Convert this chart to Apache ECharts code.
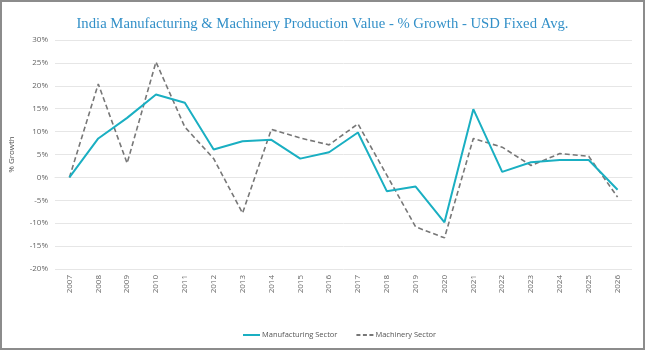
<!DOCTYPE html>
<html>
<head>
<meta charset="utf-8">
<script src="https://cdn.jsdelivr.net/npm/echarts@6/dist/echarts.min.js"></script>
<style>
    html, body { margin: 0; padding: 0; background: #fff; }
    #wrap { position: relative; width: 645px; height: 350px; }
    #chart { width: 645px; height: 350px; }
    #frame { position: absolute; left: 0; top: 0; width: 645px; height: 350px; box-sizing: border-box;
             border: 2px solid #8c8c8c; pointer-events: none; }
</style>
</head>
<body>
<div id="wrap">
    <div id="chart"></div>
    <div id="frame"></div>
</div>
<script>
// 年份
const years = ['2007', '2008', '2009', '2010', '2011', '2012', '2013', '2014', '2015', '2016',
    '2017', '2018', '2019', '2020', '2021', '2022', '2023', '2024', '2025', '2026'];
// 制造业增长率 (%)
const manufacturing = [0, 8.5, 13.0, 18.1, 16.3, 6.1, 7.9, 8.2, 4.1, 5.5,
    9.8, -3.0, -2.0, -9.8, 14.9, 1.2, 3.3, 3.8, 3.8, -2.7];
// 机械行业增长率 (%)
const machinery = [0, 20.4, 3.1, 25.2, 11.0, 4.1, -7.8, 10.5, 8.6, 7.1,
    11.7, 0.5, -10.8, -13.2, 8.5, 6.6, 2.6, 5.2, 4.6, -4.3];

const chart = echarts.init(document.getElementById('chart'));

const labelFont = 'Open Sans';

const option = {
    animation: false,
    title: {
        text: 'India Manufacturing & Machinery Production Value - % Growth - USD Fixed Avg.',
        left: 'center',
        top: 12,
        textStyle: {
            fontFamily: 'Liberation Serif',
            fontSize: 14.7,
            fontWeight: 'normal',
            color: '#3390c8'
        }
    },
    legend: {
        bottom: 6,
        left: 238,
        itemWidth: 17,
        itemHeight: 2,
        itemGap: 19,
        textStyle: { fontFamily: labelFont, fontSize: 7.5, color: '#555', padding: [0, 0, 0, -3] },
        data: [
            { name: 'Manufacturing Sector', icon: 'rect' },
            {
                name: 'Machinery Sector',
                icon: 'path://M0,0 L4,0 L4,2 L0,2 Z M6.5,0 L10.5,0 L10.5,2 L6.5,2 Z M13,0 L17,0 L17,2 L13,2 Z',
                itemStyle: { color: '#777' }
            }
        ]
    },
    grid: {
        left: 55,
        right: 13,
        top: 40,
        bottom: 81,
        outerBoundsMode: 'none'
    },
    xAxis: {
        type: 'category',
        data: years,
        boundaryGap: true,
        axisTick: { show: false },
        axisLine: { lineStyle: { color: '#e6e6e6' } },
        axisLabel: {
            rotate: 90,
            fontFamily: labelFont,
            fontSize: 8,
            color: '#666',
            margin: 6
        }
    },
    yAxis: {
        type: 'value',
        min: -20,
        max: 30,
        interval: 5,
        name: '% Growth',
        nameLocation: 'middle',
        nameGap: 39,
        nameTextStyle: { fontFamily: labelFont, fontSize: 8, color: '#555' },
        axisLine: { show: false },
        axisTick: { show: false },
        axisLabel: {
            formatter: '{value}%',
            fontFamily: labelFont,
            fontSize: 8,
            color: '#666',
            margin: 7
        },
        splitLine: { lineStyle: { color: '#e6e6e6' } }
    },
    series: [
        {
            name: 'Manufacturing Sector',
            type: 'line',
            data: manufacturing,
            showSymbol: false,
            lineStyle: { color: '#1aafc2', width: 2 },
            itemStyle: { color: '#1aafc2' },
            z: 3
        },
        {
            name: 'Machinery Sector',
            type: 'line',
            data: machinery,
            showSymbol: false,
            lineStyle: { color: '#777', width: 1.6, type: [5, 3] },
            itemStyle: { color: '#777' },
            z: 2
        }
    ]
};

chart.setOption(option);
</script>
</body>
</html>
